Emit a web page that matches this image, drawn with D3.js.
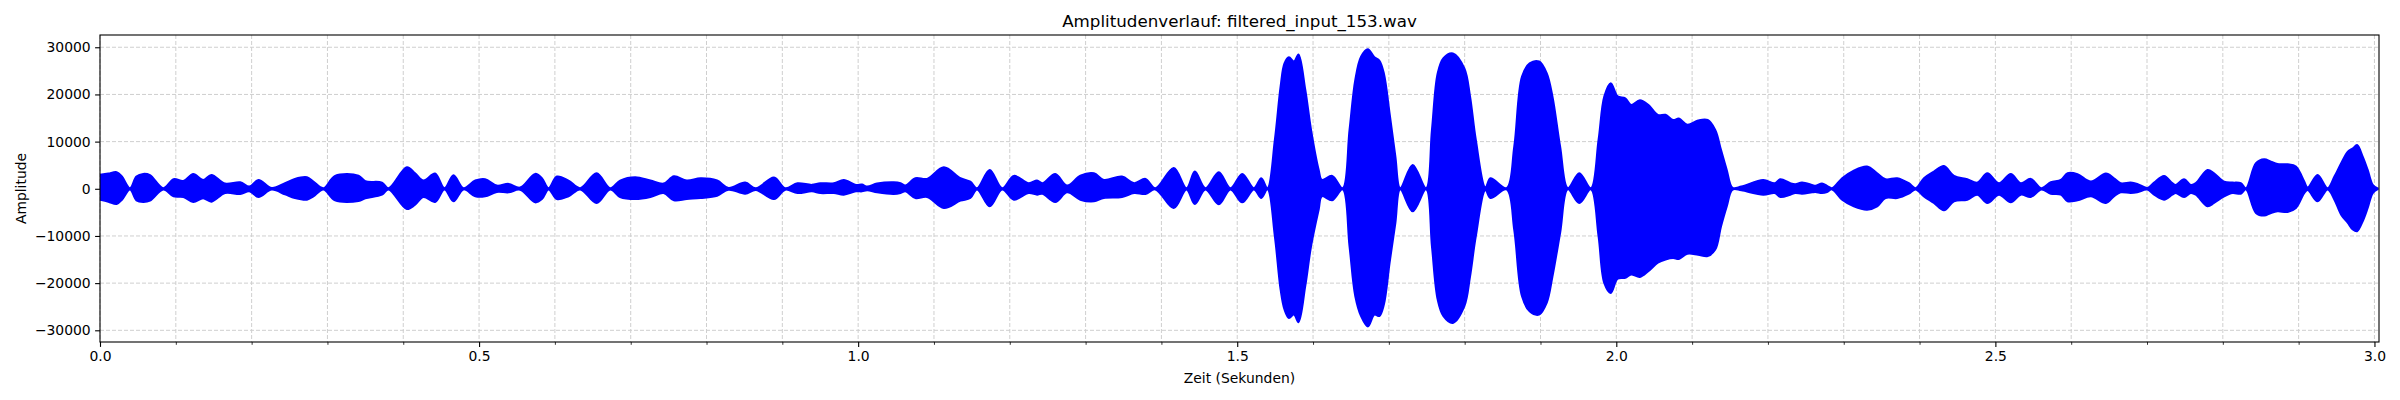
<!DOCTYPE html>
<html>
<head>
<meta charset="utf-8">
<script src="https://cdn.jsdelivr.net/npm/d3@7/dist/d3.min.js"></script>
<style>
  html, body { margin: 0; padding: 0; background: #ffffff; }
  svg { display: block; }
  text { font-family: "DejaVu Sans", sans-serif; fill: #000; }
</style>
</head>
<body>
<svg id="chart" width="2400" height="400"></svg>
<script>
// ---- Data: envelope of the waveform ----
const titleText = "Amplitudenverlauf: filtered_input_153.wav";
const xLabelText = "Zeit (Sekunden)";
const yLabelText = "Amplitude";

const times = [
  0.000, 0.011, 0.022, 0.029, 0.0396, 0.048, 0.057, 0.066, 0.0836, 0.097,
  0.110, 0.123, 0.136, 0.147, 0.165, 0.185, 0.197, 0.209, 0.2265, 0.244,
  0.257, 0.273, 0.2815, 0.2947, 0.310, 0.341, 0.350, 0.372, 0.3805, 0.4047,
  0.4157, 0.4267, 0.442, 0.4544, 0.4663, 0.4795, 0.495, 0.508, 0.5234, 0.539,
  0.554, 0.574, 0.583, 0.5917, 0.6026, 0.618, 0.6334, 0.655, 0.673, 0.686,
  0.706, 0.726, 0.7434, 0.757, 0.774, 0.792, 0.814, 0.829, 0.851, 0.865,
  0.889, 0.904, 0.920, 0.939, 0.950, 0.968, 0.981, 0.997, 1.005, 1.012,
  1.025, 1.047, 1.056, 1.0623, 1.0755, 1.091, 1.113, 1.135, 1.148, 1.1568,
  1.1735, 1.190, 1.2053, 1.225, 1.236, 1.243, 1.260, 1.2757, 1.293, 1.311,
  1.324, 1.348, 1.364, 1.379, 1.392, 1.4163, 1.4331, 1.4441, 1.4581, 1.4757,
  1.4911, 1.5066, 1.522, 1.5317, 1.5399, 1.5495, 1.5571, 1.5622, 1.5682, 1.5748,
  1.5808, 1.5899, 1.5975, 1.6076, 1.6117, 1.6253, 1.639, 1.648, 1.6556, 1.6632,
  1.6723, 1.681, 1.6875, 1.6935, 1.7011, 1.7087, 1.715, 1.7314, 1.7491, 1.7567,
  1.7643, 1.7719, 1.7845, 1.7997, 1.8072, 1.8148, 1.8274, 1.834, 1.8552, 1.8653,
  1.8755, 1.8856, 1.8982, 1.9083, 1.9159, 1.926, 1.9361, 1.9512, 1.9664, 1.9765,
  1.9841, 1.9927, 2.0018, 2.0119, 2.0195, 2.0311, 2.0422, 2.0548, 2.065, 2.075,
  2.0826, 2.0937, 2.1079, 2.1205, 2.1306, 2.1382, 2.1458, 2.1534, 2.165, 2.1938,
  2.209, 2.2163, 2.2295, 2.2361, 2.2449, 2.2581, 2.2626, 2.2714, 2.278, 2.2846,
  2.2978, 2.3132, 2.3308, 2.3441, 2.3551, 2.3705, 2.3859, 2.3947, 2.4057, 2.4189,
  2.4322, 2.4454, 2.463, 2.4762, 2.4894, 2.5048, 2.5203, 2.5335, 2.5467, 2.5608,
  2.5731, 2.5863, 2.5952, 2.6084, 2.626, 2.6458, 2.6564, 2.6652, 2.6784, 2.6872,
  2.7004, 2.7093, 2.7225, 2.7335, 2.7379, 2.7489, 2.7577, 2.7643, 2.7797, 2.7885,
  2.8018, 2.8128, 2.8238, 2.8304, 2.8436, 2.8546, 2.8634, 2.8722, 2.8855, 2.8965,
  2.9075, 2.9119, 2.925, 2.9383, 2.9471, 2.956, 2.9648, 2.9714, 2.9771, 2.9846,
  2.9912, 2.9978, 3.0044
];

const upper = [
  2970, 3250, 3530, 2610, 150, 2610, 3180, 2900, 150, 2050,
  1690, 3180, 1900, 2965, 1130, 1410, 490, 1900, 200, 1200,
  2120, 2470, 1550, 150, 2750, 2820, 1620, 1340, 150, 4590,
  3320, 1765, 3250, 150, 2900, 150, 1765, 2050, 700, 1060,
  280, 3180, 2260, 150, 2610, 1765, 150, 3320, 150, 1765,
  2470, 1765, 1130, 2680, 1765, 2260, 1765, 210, 1340, 140,
  2400, 140, 1200, 850, 1200, 1200, 1900, 850, 920, 490,
  1130, 1410, 1200, 700, 2260, 2120, 4590, 2260, 1550, 150,
  4020, 150, 2750, 1200, 1765, 1200, 3180, 700, 2820, 3320,
  1900, 2610, 1200, 2120, 150, 4450, 150, 3670, 150, 3530,
  150, 3180, 150, 2260, 150, 10380, 21700, 26600, 27900, 27000,
  28500, 21000, 12500, 4000, 1900, 2750, 150, 12500, 23100, 28000,
  29600, 27900, 27200, 24500, 16000, 6850, 150, 5080, 150, 12500,
  24500, 27700, 28700, 25500, 19600, 10400, 300, 2260, 150, 8970,
  23800, 26600, 27000, 24500, 19600, 8970, 150, 3320, 150, 10400,
  19600, 22400, 19600, 19200, 17800, 18800, 17800, 15700, 15700, 14600,
  14900, 13600, 14500, 14600, 12500, 8260, 4000, 200, 490, 1900,
  1200, 2050, 1200, 990, 1340, 850, 640, 1130, 640, 150,
  2260, 3880, 4730, 3320, 2050, 2260, 1200, 150, 2260, 3670,
  4870, 2750, 2050, 1340, 3320, 1200, 3180, 1200, 2120, 150,
  1410, 1900, 3320, 3110, 1550, 3250, 2250, 1200, 1340, 1060,
  200, 1340, 2750, 1200, 850, 2040, 850, 1200, 4010, 3310,
  1550, 1340, 1200, 150, 5420, 6270, 5770, 5280, 5210, 4720,
  1550, 300, 2960, 150, 2600, 5420, 7890, 8590, 9290, 6830,
  4010, 850, 100
];

const lower = [
  -2330, -2750, -3250, -2330, -150, -2470, -2820, -2540, -150, -1620,
  -1765, -2820, -2050, -2750, -920, -1130, -560, -1765, -200, -1200,
  -1980, -2330, -1620, -150, -2470, -2610, -2050, -1270, -150, -4300,
  -3390, -1765, -2820, -150, -2680, -150, -1620, -1620, -700, -780,
  -210, -2900, -2190, -150, -2190, -1620, -150, -3040, -150, -1765,
  -2190, -1765, -920, -2470, -2190, -1980, -1490, -210, -1060, -280,
  -2190, -210, -920, -565, -920, -920, -1270, -565, -565, -350,
  -780, -1130, -920, -565, -1980, -1765, -4100, -2540, -1980, -150,
  -3740, -150, -2330, -920, -1270, -1060, -2820, -780, -2330, -2680,
  -1980, -1765, -920, -1130, -150, -4100, -150, -3250, -150, -3300,
  -150, -2900, -150, -1980, -150, -10100, -21400, -25600, -27400, -26700,
  -28300, -20600, -12200, -4400, -1600, -2470, -150, -12200, -22800, -27000,
  -29200, -26700, -27000, -24600, -15700, -7270, -150, -4800, -150, -12200,
  -23500, -27000, -28450, -24900, -18600, -10100, -300, -1980, -150, -8750,
  -22800, -26000, -26700, -24200, -18600, -9390, -150, -3040, -150, -10100,
  -20000, -22100, -19100, -18900, -18200, -18700, -17500, -15700, -15000, -14700,
  -14900, -13800, -14000, -14300, -12900, -8000, -3740, -200, -350, -1270,
  -920, -1765, -1270, -920, -1060, -780, -700, -920, -700, -150,
  -2330, -3740, -4450, -3740, -1980, -1980, -1060, -150, -1620, -3040,
  -4590, -2680, -2330, -1270, -3040, -1270, -2900, -1270, -1765, -150,
  -1060, -1270, -2680, -2470, -1620, -3040, -1620, -770, -920, -770,
  -200, -1270, -2320, -1270, -920, -1760, -920, -1270, -3730, -3030,
  -1620, -920, -1060, -150, -5140, -5700, -5140, -4790, -4930, -4080,
  -920, -300, -2680, -150, -2320, -5490, -7250, -8660, -9010, -6900,
  -4080, -920, -100
];

const xMajorTicks = [0.0, 0.5, 1.0, 1.5, 2.0, 2.5, 3.0];
const xMinorTicks = [0.0, 0.1, 0.2, 0.3, 0.4, 0.5, 0.6, 0.7, 0.8, 0.9, 1.0,
  1.1, 1.2, 1.3, 1.4, 1.5, 1.6, 1.7, 1.8, 1.9, 2.0, 2.1, 2.2, 2.3, 2.4, 2.5,
  2.6, 2.7, 2.8, 2.9, 3.0];
const yTicks = [-30000, -20000, -10000, 0, 10000, 20000, 30000];
const xDomain = [0, 3.006];
const yDomain = [-32480, 32600];

// ---- Layout ----
const svg = d3.select("#chart");
const plot = { left: 100, right: 2379, top: 35, bottom: 342 };

const x = d3.scaleLinear().domain(xDomain).range([plot.left, plot.right]);
const y = d3.scaleLinear().domain(yDomain).range([plot.bottom, plot.top]);

const data = times.map((t, i) => ({ t, hi: upper[i], lo: lower[i] }));

// Clip
svg.append("defs").append("clipPath").attr("id", "clip")
  .append("rect")
  .attr("x", plot.left).attr("y", plot.top)
  .attr("width", plot.right - plot.left).attr("height", plot.bottom - plot.top);

// Grid
const grid = svg.append("g").attr("class", "grid");
grid.selectAll("line.vx").data(xMinorTicks).join("line")
  .attr("x1", d => x(d)).attr("x2", d => x(d))
  .attr("y1", plot.top).attr("y2", plot.bottom)
  .attr("stroke", "#cfcfcf").attr("stroke-width", 1)
  .attr("stroke-dasharray", "4,2");
grid.selectAll("line.hy").data(yTicks).join("line")
  .attr("x1", plot.left).attr("x2", plot.right)
  .attr("y1", d => y(d)).attr("y2", d => y(d))
  .attr("stroke", "#cfcfcf").attr("stroke-width", 1)
  .attr("stroke-dasharray", "4,2");

// Waveform envelope
const area = d3.area()
  .x(d => x(d.t))
  .y0(d => y(d.lo))
  .y1(d => y(d.hi))
  .curve(d3.curveCatmullRom.alpha(0.5));

svg.append("g").attr("clip-path", "url(#clip)")
  .append("path")
  .datum(data)
  .attr("d", area)
  .attr("fill", "#0000ff")
  .attr("fill-rule", "nonzero")
  .attr("stroke", "#0000ff")
  .attr("stroke-width", 1.8)
  .attr("stroke-linejoin", "round");

// Axes
const xAxis = d3.axisBottom(x)
  .tickValues(xMajorTicks)
  .tickFormat(d3.format(".1f"))
  .tickSize(4.9).tickPadding(4.4);
const gx = svg.append("g")
  .attr("transform", `translate(0,${plot.bottom})`)
  .call(xAxis);
gx.select(".domain").remove();
gx.selectAll("text").style("font-size", "13.9px").style("font-family", "DejaVu Sans");
gx.selectAll("line").attr("stroke-width", 1.1);

const xMinorAxis = d3.axisBottom(x)
  .tickValues(xMinorTicks.filter(v => !xMajorTicks.some(m => Math.abs(m - v) < 1e-9)))
  .tickFormat("")
  .tickSize(2.8);
const gxm = svg.append("g")
  .attr("transform", `translate(0,${plot.bottom})`)
  .call(xMinorAxis);
gxm.select(".domain").remove();
gxm.selectAll("line").attr("stroke-width", 0.8);

const yAxis = d3.axisLeft(y)
  .tickValues(yTicks)
  .tickFormat(d3.format("d"))
  .tickSize(4.9).tickPadding(4.4);
const gy = svg.append("g")
  .attr("transform", `translate(${plot.left},0)`)
  .call(yAxis);
gy.select(".domain").remove();
gy.selectAll("text").style("font-size", "13.9px").style("font-family", "DejaVu Sans");
gy.selectAll("line").attr("stroke-width", 1.1);

// Frame
svg.append("rect")
  .attr("x", plot.left).attr("y", plot.top)
  .attr("width", plot.right - plot.left).attr("height", plot.bottom - plot.top)
  .attr("fill", "none").attr("stroke", "#000").attr("stroke-width", 1.1);

// Title and labels
svg.append("text")
  .attr("x", (plot.left + plot.right) / 2).attr("y", 26.7)
  .attr("text-anchor", "middle")
  .style("font-size", "16.7px")
  .text(titleText);

svg.append("text")
  .attr("x", (plot.left + plot.right) / 2).attr("y", 383)
  .attr("text-anchor", "middle")
  .style("font-size", "13.9px")
  .text(xLabelText);

svg.append("text")
  .attr("transform", `translate(25.5,${(plot.top + plot.bottom) / 2}) rotate(-90)`)
  .attr("text-anchor", "middle")
  .style("font-size", "13.9px")
  .text(yLabelText);
</script>
</body>
</html>
